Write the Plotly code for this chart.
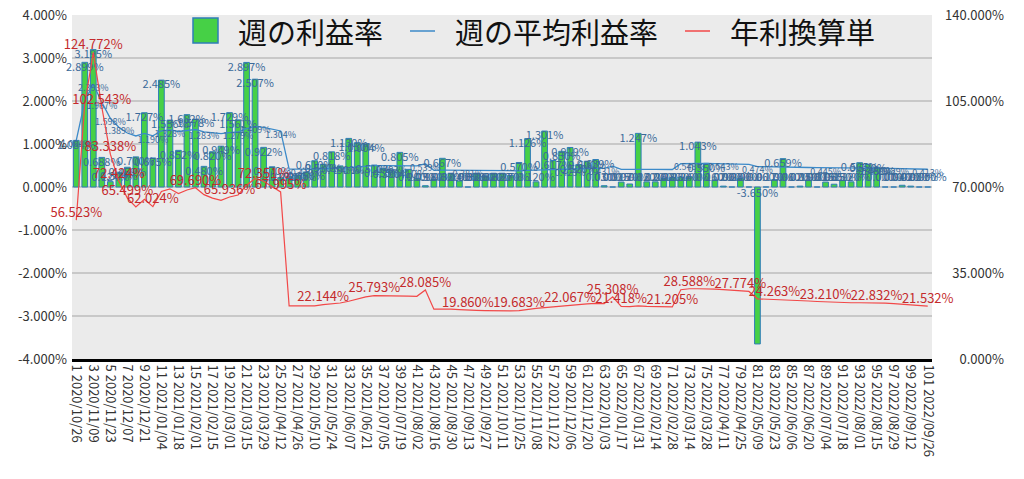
import plotly.graph_objects as go

week_no = list(range(1, 102))
week_dates = [
    "2020/10/26", "2020/11/02", "2020/11/09", "2020/11/16", "2020/11/23", "2020/11/30",
    "2020/12/07", "2020/12/14", "2020/12/21", "2020/12/28", "2021/01/04", "2021/01/11",
    "2021/01/18", "2021/01/25", "2021/02/01", "2021/02/08", "2021/02/15", "2021/02/22",
    "2021/03/01", "2021/03/08", "2021/03/15", "2021/03/22", "2021/03/29", "2021/04/05",
    "2021/04/12", "2021/04/19", "2021/04/26", "2021/05/03", "2021/05/10", "2021/05/17",
    "2021/05/24", "2021/05/31", "2021/06/07", "2021/06/14", "2021/06/21", "2021/06/28",
    "2021/07/05", "2021/07/12", "2021/07/19", "2021/07/26", "2021/08/02", "2021/08/09",
    "2021/08/16", "2021/08/23", "2021/08/30", "2021/09/06", "2021/09/13", "2021/09/20",
    "2021/09/27", "2021/10/04", "2021/10/11", "2021/10/18", "2021/10/25", "2021/11/01",
    "2021/11/08", "2021/11/15", "2021/11/22", "2021/11/29", "2021/12/06", "2021/12/13",
    "2021/12/20", "2021/12/27", "2022/01/03", "2022/01/10", "2022/01/17", "2022/01/24",
    "2022/01/31", "2022/02/07", "2022/02/14", "2022/02/21", "2022/02/28", "2022/03/07",
    "2022/03/14", "2022/03/21", "2022/03/28", "2022/04/04", "2022/04/11", "2022/04/18",
    "2022/04/25", "2022/05/02", "2022/05/09", "2022/05/16", "2022/05/23", "2022/05/30",
    "2022/06/06", "2022/06/13", "2022/06/20", "2022/06/27", "2022/07/04", "2022/07/11",
    "2022/07/18", "2022/07/25", "2022/08/01", "2022/08/08", "2022/08/15", "2022/08/22",
    "2022/08/29", "2022/09/05", "2022/09/12", "2022/09/19", "2022/09/26",
]

# 週の利益率 (%)
weekly_rate = [
    1.084, 2.899, 3.195, 0.688, 0.124, 0.344, 0.459, 0.700, 1.727, 0.675,
    2.485, 1.556, 0.852, 1.682, 1.578, 0.480, 0.820, 0.949, 1.729, 1.561,
    2.897, 2.507, 0.922, 0.470, 0.217, 0.240, 0.280, 0.350, 0.610, 0.530,
    0.818, 0.490, 1.130, 1.030, 1.004, 0.510, 0.435, 0.390, 0.805, 0.410,
    0.200, 0.030, 0.180, 0.667, 0.320, 0.140, 0.000, 0.320, 0.260, 0.320,
    0.320, 0.270, 0.570, 1.126, 0.120, 1.301, 0.617, 0.830, 0.919, 0.520,
    0.600, 0.639, 0.030, 0.000, 0.115, 0.070, 1.247, 0.120, 0.120, 0.200,
    0.220, 0.230, 0.240, 1.043, 0.550, 0.160, 0.020, 0.000, 0.200, 0.000,
    -3.650, 0.000, 0.170, 0.659, 0.000, 0.020, 0.150, 0.000, 0.115, 0.065,
    0.150, 0.120, 0.565, 0.530, 0.460, 0.000, 0.000, 0.040, 0.020, 0.000,
    0.000,
]

# 週の平均利益率 (%)
avg_rate = [
    1.084, 1.992, 2.393, 1.967, 1.598, 1.389, 1.256, 1.187, 1.247, 1.190,
    1.307, 1.328, 1.291, 1.319, 1.337, 1.283, 1.256, 1.239, 1.265, 1.279,
    1.356, 1.409, 1.388, 1.349, 1.304, 0.414, 0.412, 0.410, 0.414, 0.425,
    0.430, 0.437, 0.451, 0.468, 0.485, 0.495, 0.495, 0.493, 0.495, 0.491,
    0.489, 0.539, 0.389, 0.391, 0.389, 0.385, 0.381, 0.380, 0.378, 0.376,
    0.376, 0.376, 0.377, 0.387, 0.395, 0.401, 0.407, 0.414, 0.423, 0.426,
    0.430, 0.433, 0.431, 0.485, 0.411, 0.408, 0.414, 0.410, 0.408, 0.408,
    0.407, 0.541, 0.548, 0.548, 0.548, 0.545, 0.543, 0.537, 0.533, 0.527,
    0.474, 0.468, 0.465, 0.462, 0.460, 0.456, 0.453, 0.449, 0.445, 0.443,
    0.441, 0.439, 0.439, 0.439, 0.438, 0.435, 0.429, 0.426, 0.422, 0.418,
    0.413,
]

# 年利換算単 (%)
annual_rate = [
    56.523, 103.870, 124.772, 102.543, 83.338, 72.424, 65.499, 61.890, 65.010, 62.024,
    68.150, 69.250, 67.340, 68.780, 69.690, 66.900, 65.490, 64.590, 65.936, 66.740,
    70.730, 73.450, 72.351, 70.340, 67.995, 21.600, 21.500, 21.400, 21.600, 22.144,
    22.400, 22.800, 23.500, 24.400, 25.300, 25.793, 25.800, 25.700, 25.800, 25.600,
    25.500, 28.085, 20.300, 20.400, 20.300, 20.100, 19.860, 19.800, 19.700, 19.600,
    19.600, 19.600, 19.683, 20.200, 20.600, 20.900, 21.200, 21.600, 22.067, 22.200,
    22.400, 22.600, 22.500, 25.308, 21.418, 21.300, 21.600, 21.400, 21.300, 21.300,
    21.205, 28.200, 28.588, 28.600, 28.600, 28.400, 28.200, 28.000, 27.774, 27.500,
    24.500, 24.400, 24.263, 24.100, 24.000, 23.800, 23.600, 23.400, 23.210, 23.100,
    23.000, 22.900, 22.900, 22.900, 22.832, 22.700, 22.500, 22.200, 22.000, 21.800,
    21.532,
]

left_ticks = [4, 3, 2, 1, 0, -1, -2, -3, -4]
right_ticks = [0, 35, 70, 105, 140]
avg_label_weeks = [1, 3, 4, 5, 6, 10, 12, 16, 20, 22, 25, 28, 33, 38, 42, 47, 59,
                   63, 73, 77, 81, 89, 95, 97, 101]
annual_label_weeks = [1, 3, 4, 5, 6, 7, 10, 15, 19, 23, 25, 30, 36, 42, 47, 53, 59,
                      64, 65, 71, 73, 79, 83, 89, 95, 101]

series_names = ["週の利益率", "週の平均利益率", "年利換算単"]

GREEN = "#46D046"
BAR_EDGE = "#2F7DB8"
BLUE = "#3C8AC9"
RED = "#F24848"
BLUE_TXT = "#3A6A9A"
RED_TXT = "#C42A2C"
FONT = "Noto Sans CJK JP"

categories = [f"{n} {d}" for n, d in zip(week_no, week_dates)]


def right_tick_text(v):
    s = f"{v:.3f}%"
    # pad with figure spaces so the labels line up on their right edge
    return "\u2007" * (8 - len(s)) + s


fig = go.Figure()

fig.add_trace(go.Bar(
    x=categories, y=weekly_rate, name=series_names[0],
    marker=dict(color=GREEN, line=dict(color=BAR_EDGE, width=1)),
    hoverinfo="skip",
))

fig.add_trace(go.Scatter(
    x=categories, y=avg_rate, name=series_names[1], mode="lines",
    line=dict(color=BLUE, width=1.3), hoverinfo="skip",
))

fig.add_trace(go.Scatter(
    x=categories, y=annual_rate, name=series_names[2], mode="lines",
    line=dict(color=RED, width=1.2), yaxis="y2", hoverinfo="skip",
))

# bar value labels (inside the top of each bar)
bar_label_y = [max(v, 0.32) if v >= 0 else -0.05 for v in weekly_rate]
fig.add_trace(go.Scatter(
    x=categories, y=bar_label_y, mode="text",
    text=[f"{v:.3f}%" for v in weekly_rate],
    textposition="bottom center", cliponaxis=False,
    textfont=dict(family=FONT, size=11, color=BLUE_TXT),
    hoverinfo="skip", showlegend=False,
))

# average labels
fig.add_trace(go.Scatter(
    x=[categories[w - 1] for w in avg_label_weeks],
    y=[avg_rate[w - 1] for w in avg_label_weeks],
    mode="text", cliponaxis=False,
    text=[f"{avg_rate[w - 1]:.3f}%" for w in avg_label_weeks],
    textposition="bottom center",
    textfont=dict(family=FONT, size=9, color=BLUE_TXT),
    hoverinfo="skip", showlegend=False,
))

# annual labels
fig.add_trace(go.Scatter(
    x=[categories[w - 1] for w in annual_label_weeks],
    y=[annual_rate[w - 1] for w in annual_label_weeks],
    mode="text", yaxis="y2", cliponaxis=False,
    text=[f"{annual_rate[w - 1]:.3f}%" for w in annual_label_weeks],
    textposition="top center",
    textfont=dict(family=FONT, size=13, color=RED_TXT),
    hoverinfo="skip", showlegend=False,
))

# custom legend (paper coordinates derived from pixel layout)
def px_x(px):
    return (px - 72) / 860.0


def px_y(py):
    return (359 - py) / 344.0


shapes = [
    dict(type="rect", xref="paper", yref="paper",
         x0=px_x(193), x1=px_x(218), y0=px_y(43), y1=px_y(18),
         fillcolor=GREEN, line=dict(color=BAR_EDGE, width=1.5)),
    dict(type="line", xref="paper", yref="paper",
         x0=px_x(410), x1=px_x(435), y0=px_y(31), y1=px_y(31),
         line=dict(color=BLUE, width=1.5)),
    dict(type="line", xref="paper", yref="paper",
         x0=px_x(685), x1=px_x(710), y0=px_y(31), y1=px_y(31),
         line=dict(color=RED, width=1.5)),
]
annotations = [
    dict(xref="paper", yref="paper", x=px_x(236), y=px_y(31), text=series_names[0],
         xanchor="left", yanchor="middle", showarrow=False,
         font=dict(family=FONT, size=29, color="#111111")),
    dict(xref="paper", yref="paper", x=px_x(453), y=px_y(31), text=series_names[1],
         xanchor="left", yanchor="middle", showarrow=False,
         font=dict(family=FONT, size=29, color="#111111")),
    dict(xref="paper", yref="paper", x=px_x(728), y=px_y(31), text=series_names[2],
         xanchor="left", yanchor="middle", showarrow=False,
         font=dict(family=FONT, size=29, color="#111111")),
]

fig.update_layout(
    width=1024, height=479,
    margin=dict(l=72, r=92, t=15, b=120, autoexpand=False),
    paper_bgcolor="white", plot_bgcolor="#EBEBEB",
    showlegend=False, bargap=0.33,
    font=dict(family=FONT, color="#333333"),
    shapes=shapes, annotations=annotations,
    xaxis=dict(
        type="category", tickvals=categories[::2], ticktext=categories[::2],
        tickangle=90, tickfont=dict(family=FONT, size=13, color="#333333"),
        showline=True, linecolor="black", linewidth=3, automargin=False,
        showgrid=False, ticks="", range=[-0.5, 100.5],
        ticklabeloverflow="allow",
    ),
    yaxis=dict(
        range=[-4, 4], tickvals=left_ticks,
        ticktext=[f"{v:.3f}%" for v in left_ticks],
        gridcolor="#C8C8C8", gridwidth=1.5, zeroline=False, showline=False,
        tickfont=dict(family=FONT, size=13, color="#333333"), ticks="",
        ticklabelstandoff=4, automargin=False, ticklabeloverflow="allow",
    ),
    yaxis2=dict(
        range=[0, 140], tickvals=right_ticks,
        ticktext=[right_tick_text(v) for v in right_ticks],
        overlaying="y", side="right", showgrid=False, zeroline=False,
        tickfont=dict(family=FONT, size=13, color="#333333"), ticks="",
        ticklabelstandoff=12, automargin=False, ticklabeloverflow="allow",
    ),
)

# remove the page's default body margin so the figure sits at the window origin
fig.write_html(
    "out.html",
    config={"displayModeBar": False},
    post_script="document.body.style.margin='0';",
)
